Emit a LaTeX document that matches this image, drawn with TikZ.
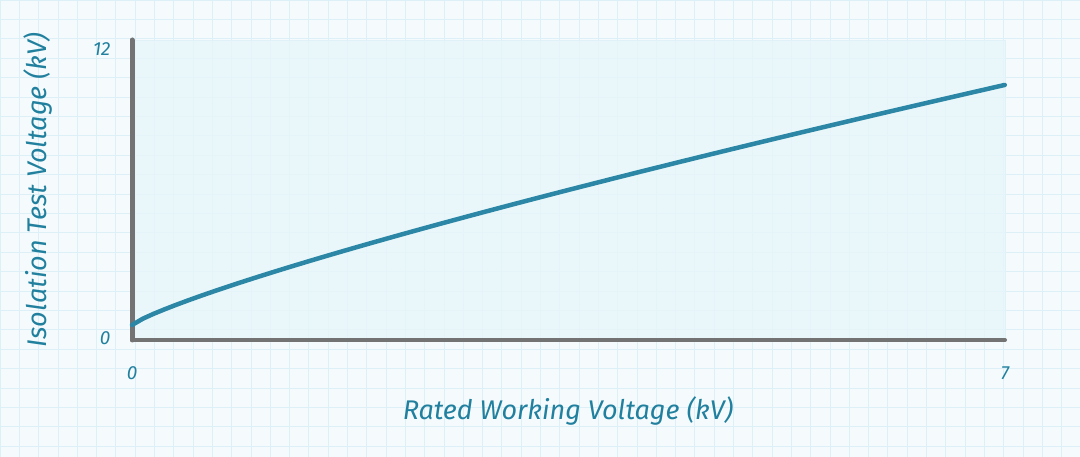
\documentclass[tikz,border=0pt]{standalone}
\usepackage{fontspec}
\setmainfont{Fira Sans}
\definecolor{bg}{HTML}{F5FBFD}
\definecolor{gridc}{HTML}{DDF0F7}
\definecolor{plotbg}{HTML}{E6F6FA}
\definecolor{axisc}{HTML}{737373}
\definecolor{curvec}{HTML}{2C87A6}
\definecolor{txtc}{HTML}{22809F}
\tikzset{axisline/.style={draw=axisc,line width=5pt,line cap=round},
 lbl/.style={text=txtc,font=\fontsize{27}{31}\selectfont\itshape},
 tick/.style={text=txtc,font=\fontsize{19}{22}\selectfont\itshape}}
\begin{document}
\begin{tikzpicture}[x=1pt,y=-1pt]
\useasboundingbox (0,0) rectangle (1080,457);
\fill[bg] (0,0) rectangle (1080,457);
\foreach \i in {0,...,56} \draw[gridc,line width=0.8pt] (\i*19.3,0) -- (\i*19.3,457);
\foreach \j in {0,...,24} \draw[gridc,line width=0.8pt] (0,\j*19.4) -- (1080,\j*19.4);
\fill[plotbg,opacity=0.8] (132,40) rectangle (1005,340);
\draw[gridc!70!plotbg,line width=0.6pt] (132,40) rectangle (1005,340);
\coordinate (o) at (132,340);
\coordinate (ytop) at (132,40);
\coordinate (xend) at (1005,340);
\draw[axisline] (ytop) -- (o);
\draw[axisline,line width=4pt] (o) -- (xend);
\draw[curvec,line width=4.5pt,line cap=round,domain=0:7,samples=80]
  plot ({132+\x*124.7},{340-25*(0.6+1.91*(\x)^0.83)});
\node[tick,anchor=east] (t12) at (114,49) {12};
\node[tick,anchor=east] (t0) at (114,338) {0};
\node[tick] (x0) at (132,373) {0};
\node[tick] (x7) at (1005,373) {7};
\node[lbl] (xl) at (568,411) {Rated Working Voltage (kV)};
\node[lbl,rotate=90] (yl) at (38,190) {Isolation Test Voltage (kV)};
\end{tikzpicture}
\end{document}
